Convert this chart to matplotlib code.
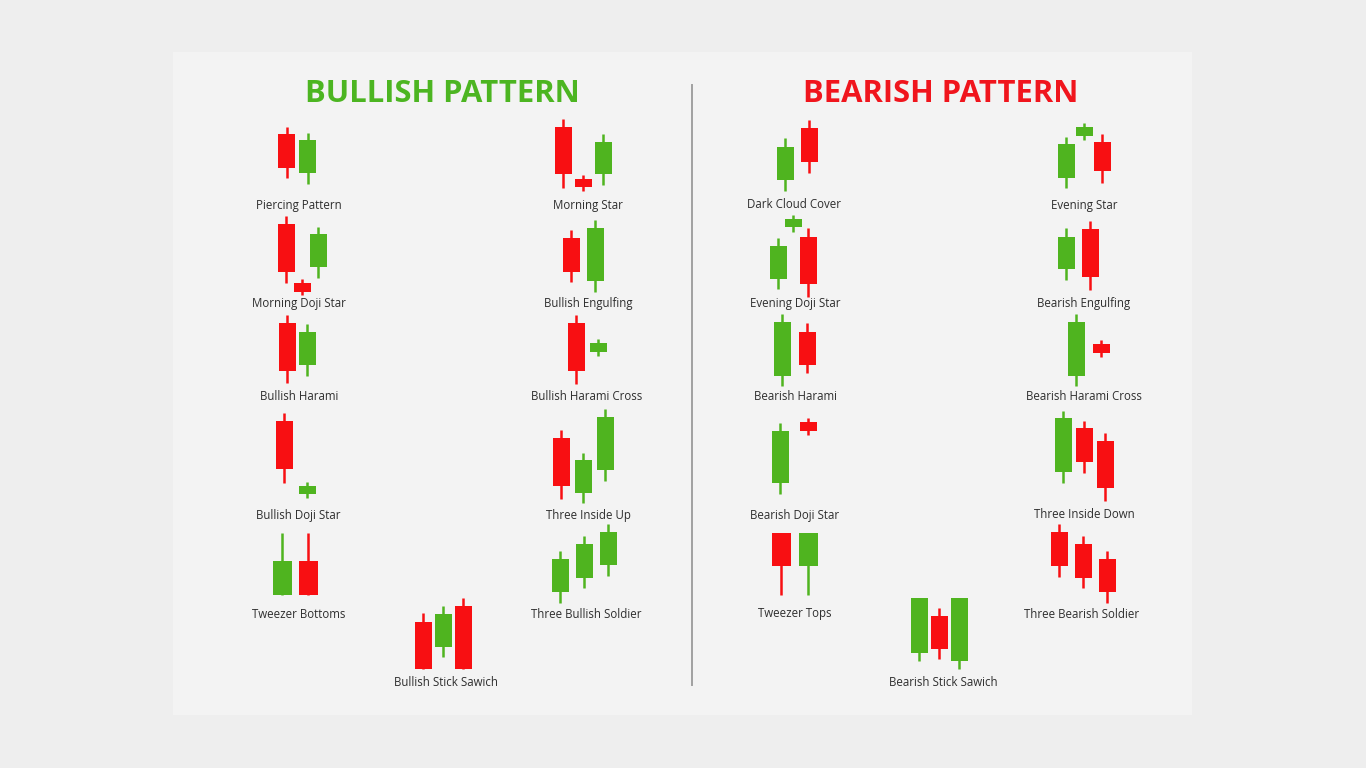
import matplotlib.pyplot as plt
from matplotlib.patches import Rectangle

# ---- candle data: (open, high, low, close), price 0 = lowest wick of the pattern
piercing_pattern = [(50, 57, 6, 16), (11, 51, 0, 44)]
morning_star = [(64, 72, 3, 17), (12, 16, 0, 4), (17, 57, 6, 49)]
morning_doji_star = [(71, 79, 12, 23), (12, 16, 0, 3), (28, 68, 17, 61)]
bullish_engulfing = [(54, 62, 10, 20), (11, 72, 0, 64)]
bullish_harami = [(60, 68, 0, 12), (18, 59, 7, 51)]
bullish_harami_cross = [(61, 69, 0, 13), (32, 45, 28, 41)]
bullish_doji_star = [(77, 85, 15, 29), (4, 16, 0, 12)]
three_inside_up = [(65, 73, 4, 17), (10, 50, 0, 43), (33, 94, 22, 86)]
tweezer_bottoms = [(0, 62, 0, 34), (34, 62, 0, 0)]
three_bullish_soldier = [(11, 52, 0, 44), (25, 67, 15, 59), (38, 79, 27, 71)]
bullish_stick_sandwich = [(47, 56, 0, 0), (22, 63, 12, 55), (63, 71, 0, 0)]

dark_cloud_cover = [(11, 53, 0, 44), (63, 71, 18, 29)]
evening_star = [(10, 51, 0, 44), (52, 65, 48, 61), (46, 54, 5, 17)]
evening_doji_star = [(18, 59, 8, 51), (70, 82, 65, 78), (60, 69, 0, 13)]
bearish_engulfing = [(21, 62, 10, 53), (61, 69, 0, 13)]
bearish_harami = [(10, 72, 0, 64), (54, 63, 13, 21)]
bearish_harami_cross = [(10, 72, 0, 64), (42, 46, 29, 33)]
bearish_doji_star = [(11, 71, 0, 63), (72, 76, 59, 63)]
three_inside_down = [(29, 90, 18, 83), (73, 80, 28, 39), (60, 68, 0, 13)]
tweezer_tops = [(62, 62, 0, 29), (29, 62, 0, 62)]
three_bearish_soldier = [(71, 79, 26, 37), (59, 67, 15, 25), (44, 52, 0, 11)]
bearish_stick_sandwich = [(16, 71, 8, 71), (53, 61, 10, 20), (8, 71, 0, 71)]

labels = ["Piercing Pattern", "Morning Star", "Morning Doji Star", "Bullish Engulfing",
          "Bullish Harami", "Bullish Harami Cross", "Bullish Doji Star", "Three Inside Up",
          "Tweezer Bottoms", "Three Bullish Soldier", "Bullish Stick Sawich",
          "Dark Cloud Cover", "Evening Star", "Evening Doji Star", "Bearish Engulfing",
          "Bearish Harami", "Bearish Harami Cross", "Bearish Doji Star", "Three Inside Down",
          "Tweezer Tops", "Three Bearish Soldier", "Bearish Stick Sawich"]
candles = [piercing_pattern, morning_star, morning_doji_star, bullish_engulfing,
           bullish_harami, bullish_harami_cross, bullish_doji_star, three_inside_up,
           tweezer_bottoms, three_bullish_soldier, bullish_stick_sandwich,
           dark_cloud_cover, evening_star, evening_doji_star, bearish_engulfing,
           bearish_harami, bearish_harami_cross, bearish_doji_star, three_inside_down,
           tweezer_tops, three_bearish_soldier, bearish_stick_sandwich]

# ---- layout (pixels): first candle x, step, base y, label x, label y, body width
layout = [
    (286.5, 21, 184, 299, 205, 17), (563, 20, 191, 588, 205, 17),
    (286, 16, 295, 299, 304, 17), (571, 24, 292, 588, 304, 17),
    (287, 20, 383, 299, 396, 17), (576, 22, 384, 587, 396, 17),
    (284, 23, 498, 298, 515, 17), (561, 22, 503, 588, 515, 17),
    (282, 26, 595, 299, 614, 19), (560, 24, 603, 586, 614, 17),
    (423, 20, 669, 446, 683, 17),
    (785, 24, 191, 794, 205, 17), (1066, 18, 188, 1084, 205, 17),
    (778, 15, 297, 795, 304, 17), (1066, 24, 290, 1084, 304, 17),
    (782, 25, 386, 795, 396, 17), (1076, 25, 386, 1084, 396, 17),
    (780, 28, 494, 795, 515, 17), (1063, 21, 501, 1084, 515, 17),
    (781, 27, 595, 795, 614, 19), (1059, 24, 603, 1082, 614, 17),
    (919, 20, 669, 943, 683, 17),
]

RED = "#f80f12"
GREEN = "#4fb41f"

fig = plt.figure(figsize=(13.66, 7.68), dpi=100, facecolor="#eeeeee")
ax = fig.add_axes([0, 0, 1, 1])
ax.set_xlim(0, 1366)
ax.set_ylim(768, 0)
ax.axis("off")

# inner panel and divider
ax.add_patch(Rectangle((173, 52), 1019, 663, facecolor="#f3f3f3", edgecolor="none", zorder=0))
ax.plot([692, 692], [85, 685], color="#a0a0a0", lw=1.4, zorder=1)

ax.text(442, 94, "BULLISH PATTERN", color="#4cb521", fontsize=22.3, fontweight="bold",
        family="Open Sans", ha="center", va="center")
ax.text(941, 94, "BEARISH PATTERN", color="#f0151d", fontsize=22.3, fontweight="bold",
        family="Open Sans", ha="center", va="center")

for name, cs, (x0, step, base, lx, ly, w) in zip(labels, candles, layout):
    for i, (o, h, l, c) in enumerate(cs):
        x = x0 + i * step
        col = GREEN if c > o else RED
        if o == c:
            col = GREEN if "Bullish" in name else RED
        ax.vlines(x, base - l, base - h, color=col, lw=1.8, zorder=2)
        ax.bar(x, abs(c - o), bottom=base - max(o, c), width=w, color=col, zorder=3)
    ax.text(lx, ly, name, fontsize=8.3, color="#2e2e2e", family="Open Sans",
            ha="center", va="center")

fig.savefig("out.png", dpi=100, facecolor=fig.get_facecolor())
